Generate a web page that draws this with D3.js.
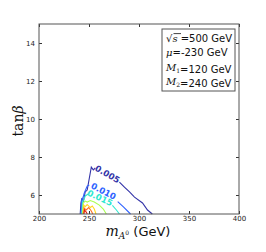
<!DOCTYPE html>
<html>
<head>
<meta charset="utf-8">
<script src="https://cdn.jsdelivr.net/npm/d3@7"></script>
<style>
  body { margin: 0; background: #fff; }
  svg { display: block; }
</style>
</head>
<body>
<svg width="266" height="252"></svg>
<script>
var svg = d3.select("svg"),
    margin = {top: 24, right: 27, bottom: 38, left: 39},
    width = 266 - margin.left - margin.right,
    height = 252 - margin.top - margin.bottom;

// axis ticks
var xTicks = [200, 250, 300, 350, 400],
    yTicks = [6, 8, 10, 12, 14];

// contour levels, colours and points [m_A0, tanb]; each level is a list of segments (gap under label)
var levels = ["0.005", "0.010", "0.015", "0.020", "0.025", "0.030", "0.035"];
var colors = ["#3434a8", "#2e62ff", "#2ee8d0", "#a8ff50", "#ffd820", "#ff7020", "#e02010"];

var c005 = [
  [[241.2,5.0],[241.9,5.58],[242.7,5.79],[244.5,5.68],[246.2,6.16],[248.2,6.26],[252.3,7.47],[254.3,7.32],[256.3,7.42]],
  [[280.4,6.68],[285.4,6.42],[290.5,6.16],[295.5,5.89],[303.5,5.58],[308.5,5.21],[313.3,5.0]]
];
var c010 = [
  [[242.2,5.0],[242.7,5.74],[244.2,5.89],[245.2,6.1],[248.2,6.47],[250.3,6.53]],
  [[278.7,5.65],[284.4,5.37],[291.5,5.0]]
];
var c015 = [
  [[242.9,5.0],[243.5,5.63],[245.2,5.79],[246.2,5.95],[249.2,6.05]],
  [[273.4,5.45],[277.4,5.21],[280.4,5.0]]
];
var c020 = [
  [[243.5,5.0],[244.2,5.58],[246.2,5.68],[248.2,5.63],[251.3,5.71],[255.3,5.63],[260.3,5.47],[264.3,5.26],[267.3,5.0]]
];
var c025 = [
  [[244.2,5.0],[244.7,5.47],[246.2,5.39],[248.2,5.5],[251.3,5.34],[253.3,5.42],[255.3,5.26],[257.0,5.0]]
];
var c030 = [
  [[244.7,5.0],[245.2,5.32],[247.2,5.21],[249.7,5.34],[252.3,5.16],[253.8,5.0]]
];
var c035 = [
  [[244.9,5.0],[245.5,5.21],[247.2,5.1],[248.2,5.0]]
];
var contours = [c005, c010, c015, c020, c025, c030, c035];

// inline labels: [m_A0, tanb, angle]
var labelPos = [[268.5, 7.1, 30], [264.5, 6.2, 27], [261, 5.85, 25]];

var legendLines = ["=500 GeV", "=-230 GeV", "=120 GeV", "=240 GeV"];

var x = d3.scaleLinear().domain([200, 400]).range([0, width]),
    y = d3.scaleLinear().domain([5, 15]).range([height, 0]);

var g = svg.append("g")
    .attr("transform", "translate(" + margin.left + "," + margin.top + ")");

var line = d3.line()
    .x(function(d) { return x(d[0]); })
    .y(function(d) { return y(d[1]); });

contours.forEach(function(segs, i) {
  g.selectAll(null)
    .data(segs)
    .enter().append("path")
      .attr("d", line)
      .attr("fill", "none")
      .attr("stroke", colors[i])
      .attr("stroke-width", 1.1);
});

g.selectAll(".clabel")
  .data(labelPos)
  .enter().append("text")
    .attr("class", "clabel")
    .attr("transform", function(d) { return "translate(" + x(d[0]) + "," + y(d[1]) + ") rotate(" + d[2] + ")"; })
    .attr("text-anchor", "middle")
    .attr("dy", "0.35em")
    .style("font-family", "DejaVu Sans")
    .style("font-size", "8.5px")
    .style("font-weight", "bold")
    .style("fill", function(d, i) { return colors[i]; })
    .text(function(d, i) { return levels[i]; });

// axes with inward ticks on all four sides
var tickStyle = function(sel) {
  sel.select(".domain").remove();
  sel.selectAll("line").attr("stroke", "#333");
  sel.selectAll("text").style("font-family", "DejaVu Sans").style("font-size", "7px").attr("fill", "#222");
};

g.append("g")
    .attr("transform", "translate(0," + height + ")")
    .call(d3.axisBottom(x).tickValues(xTicks).tickSize(-3).tickPadding(2).tickFormat(d3.format("d")))
    .call(tickStyle);
g.append("g")
    .call(d3.axisTop(x).tickValues(xTicks).tickSize(-3).tickFormat(""))
    .call(tickStyle);
g.append("g")
    .call(d3.axisLeft(y).tickValues(yTicks).tickSize(-3).tickPadding(4).tickFormat(d3.format("d")))
    .call(tickStyle);
g.append("g")
    .attr("transform", "translate(" + width + ",0)")
    .call(d3.axisRight(y).tickValues(yTicks).tickSize(-3).tickFormat(""))
    .call(tickStyle);

g.append("rect")
    .attr("width", width)
    .attr("height", height)
    .attr("fill", "none")
    .attr("stroke", "#555")
    .attr("stroke-width", 1);

// legend box
var lg = g.append("g").attr("transform", "translate(" + (width - 77) + ",5)");
lg.append("rect")
    .attr("width", 73)
    .attr("height", 62)
    .attr("fill", "#fff")
    .attr("stroke", "#555")
    .attr("stroke-width", 1);

var rows = lg.selectAll(".row")
  .data(legendLines)
  .enter().append("text")
    .attr("class", "row")
    .attr("x", 4)
    .attr("y", function(d, i) { return 13 + i * 14.3; })
    .style("font-size", "10px")
    .style("font-family", "DejaVu Sans")
    .attr("fill", "#111");

rows.each(function(d, i) {
  var t = d3.select(this);
  var ser = t.append("tspan").style("font-family", "DejaVu Serif").style("font-style", "italic");
  if (i === 0) {
    ser.style("font-style", "normal").text("\u221A");
    t.append("tspan").style("font-family", "DejaVu Serif").style("font-style", "italic").text("s");
    t.append("tspan").text(" ");
  } else if (i === 1) {
    ser.text("\u03BC");
  } else {
    ser.text("M");
    t.append("tspan").attr("dy", 2).style("font-size", "6px").style("font-family", "DejaVu Serif").text(i === 2 ? "1" : "2");
    t.append("tspan").attr("dy", -2).text("");
  }
  t.append("tspan").text(d);
});
// bar of the square root
lg.append("line")
    .attr("x1", 11.5).attr("x2", 19)
    .attr("y1", 4.6).attr("y2", 4.6)
    .attr("stroke", "#111").attr("stroke-width", 0.8);

// axis labels
var xl = svg.append("text")
    .attr("x", margin.left + width / 2 - 1)
    .attr("y", 236)
    .attr("text-anchor", "middle")
    .attr("fill", "#111");
xl.append("tspan").style("font-family", "DejaVu Serif").style("font-style", "italic").style("font-size", "14px").text("m");
xl.append("tspan").attr("dy", 3).style("font-family", "DejaVu Serif").style("font-style", "italic").style("font-size", "9px").text("A");
xl.append("tspan").attr("dy", -4).style("font-family", "DejaVu Serif").style("font-size", "6px").text("0");
xl.append("tspan").attr("dy", 1).style("font-family", "DejaVu Sans").style("font-size", "13px").text(" (GeV)");

var yl = svg.append("text")
    .attr("transform", "translate(23," + (margin.top + height / 2 + 2) + ") rotate(-90)")
    .attr("text-anchor", "middle")
    .attr("fill", "#111")
    .style("font-family", "DejaVu Serif")
    .style("font-size", "14px");
yl.append("tspan").text("tan");
yl.append("tspan").style("font-style", "italic").text("\u03B2");
</script>
</body>
</html>
